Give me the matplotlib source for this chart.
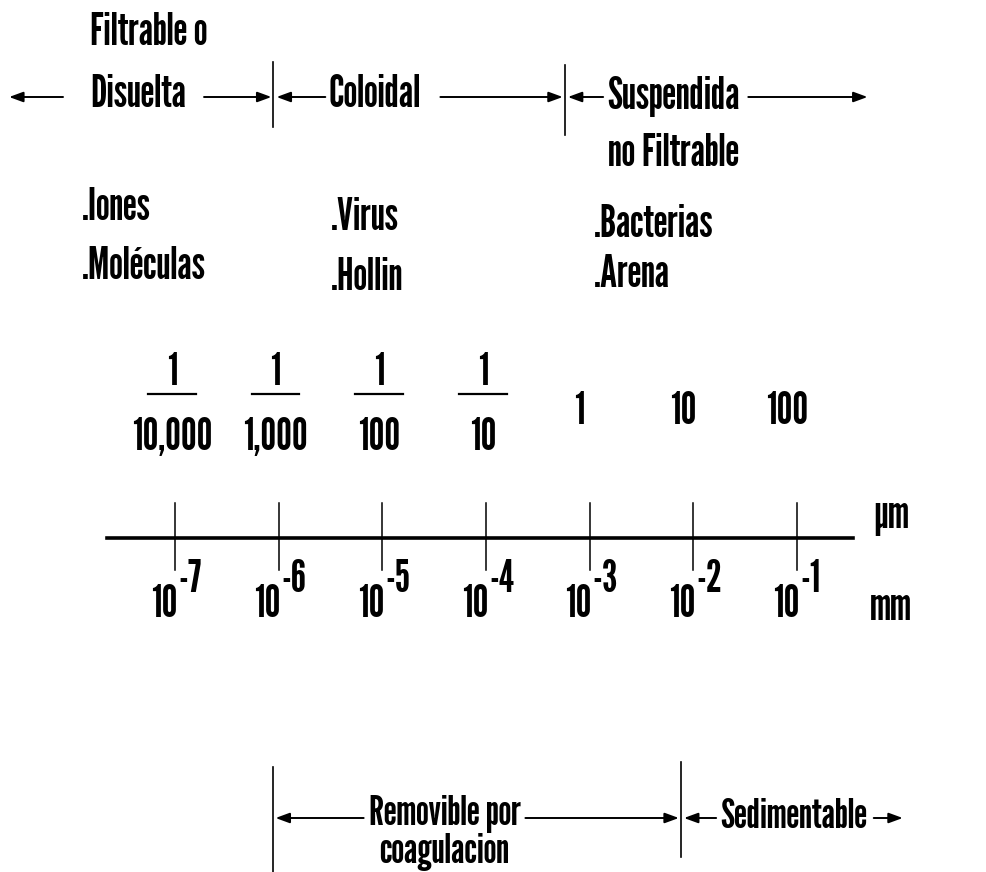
import matplotlib.pyplot as plt

plt.rcParams['font.family'] = ['League Gothic', 'DejaVu Sans']

# escala de tamanos: exponentes en mm y equivalentes en micrometros
exponentes = [-7, -6, -5, -4, -3, -2, -1]
um_numerador = ['1', '1', '1', '1', '', '', '']
um_denominador = ['10,000', '1,000', '100', '10', '1', '10', '100']

# clasificacion por tamano (limites en log10 mm)
clases = ['Filtrable o\nDisuelta', 'Coloidal', 'Suspendida\nno Filtrable']
limites_clase = [-6.05, -3.24]
ejemplos = [['.Iones', '.Moléculas'], ['.Virus', '.Hollin'], ['.Bacterias', '.Arena']]

# remocion
remocion = ['Removible por\ncoagulacion', 'Sedimentable']
limites_remocion = [-6.05, -2.12]

fig = plt.figure(figsize=(9.86, 8.72), dpi=100)
ax = fig.add_axes([0, 0, 1, 1])
ax.set_xlim(-8.688, 0.823)
ax.set_ylim(872, 0)
ax.axis('off')

txt = dict(fontsize=32, color='black')
txt_b = dict(fontsize=30, color='black')


def flecha(x0, x1, y):
    ax.annotate('', xy=(x1, y), xytext=(x0, y),
                arrowprops=dict(arrowstyle='-|>,head_length=0.6,head_width=0.22',
                                lw=1.4, color='black', mutation_scale=14,
                                shrinkA=0, shrinkB=0))


# --- fila superior: clases ---
y_f = 97
l1, l2 = limites_clase
c0a, c0b = clases[0].split('\n')
c2a, c2b = clases[2].split('\n')
flecha(-8.08, -8.60, y_f)
ax.text(-7.82, 45, c0a, ha='left', va='baseline', **txt)
ax.text(-7.82, 107, c0b, ha='left', va='baseline', **txt)
flecha(-6.72, l1 - 0.02, y_f)
ax.plot([l1, l1], [62, 127], color='black', lw=1.2)
flecha(-5.55, l1 + 0.03, y_f)
ax.text(-5.52, 107, clases[1], ha='left', va='baseline', **txt)
flecha(-4.44, l2 - 0.02, y_f)
ax.plot([l2, l2], [65, 135], color='black', lw=1.2)
flecha(-2.87, l2 + 0.03, y_f)
ax.text(-2.83, 109, c2a, ha='left', va='baseline', **txt)
ax.text(-2.82, 166, c2b, ha='left', va='baseline', **txt)
flecha(-1.47, -0.32, y_f)

# --- ejemplos ---
x_ej = [-7.90, -5.50, -2.96]
y_ej = [[220, 279], [230, 290], [237, 287]]
for xe, ye, ej in zip(x_ej, y_ej, ejemplos):
    for yy, e in zip(ye, ej):
        ax.text(xe, yy, e, ha='left', va='baseline', **txt)

# --- equivalentes en micrometros ---
for e, num, den in zip(exponentes, um_numerador, um_denominador):
    xc = e - 0.03
    if num:
        ax.text(xc, 385, num, ha='center', va='baseline', **txt)
        ax.plot([xc - 0.23, xc + 0.23], [394, 394], color='black', lw=1.6)
        ax.text(xc, 450, den, ha='center', va='baseline', **txt)
    else:
        ax.text(xc - 0.07, 424, den, ha='center', va='baseline', **txt)

# --- eje en mm ---
ax.plot([-7.656, -0.46], [538, 538], color='black', lw=2.6)
for e in exponentes:
    ax.plot([e, e], [503, 570], color='black', lw=1.1)
    ax.text(e + 0.02, 617, '10', ha='right', va='baseline', **txt)
    ax.text(e + 0.03, 592, '-%d' % abs(e), ha='left', va='baseline', **txt)
ax.text(-0.09, 528, 'µm', ha='center', va='baseline', **txt)
ax.text(-0.09, 620, 'mm', ha='center', va='baseline', **txt)

# --- fila inferior: remocion ---
y_r = 818
r1, r2 = limites_remocion
ra, rb = remocion[0].split('\n')
ax.plot([r1, r1], [767, 872], color='black', lw=1.2)
flecha(-5.18, r1 + 0.02, y_r)
ax.text(-4.40, 825, ra, ha='center', va='baseline', **txt_b)
ax.text(-4.40, 863, rb, ha='center', va='baseline', **txt_b)
flecha(-3.62, r2 - 0.02, y_r)
ax.plot([r2, r2], [762, 857], color='black', lw=1.2)
flecha(-1.78, r2 + 0.03, y_r)
ax.text(-1.74, 828, remocion[1], ha='left', va='baseline', **txt_b)
flecha(-0.26, 0.02, y_r)

fig.savefig('out.png', dpi=100, facecolor='white')
